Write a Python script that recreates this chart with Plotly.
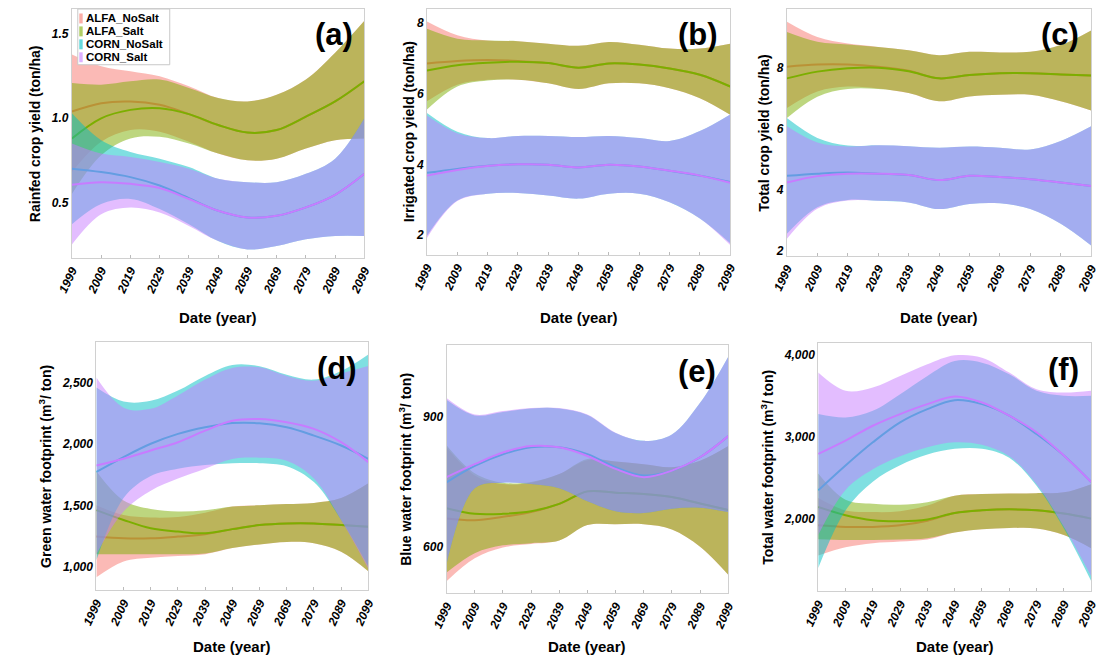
import plotly.graph_objects as go

years = [1999, 2009, 2019, 2029, 2039, 2049, 2059, 2069, 2079, 2089, 2099]
year_labels = [str(y) for y in years]
series_names = ["ALFA_NoSalt", "ALFA_Salt", "CORN_NoSalt", "CORN_Salt"]
series_colors = ["#F8766D", "#7CAE00", "#00BFC4", "#C77CFF"]

# ---------- (a) Rainfed crop yield ----------
a_an_mean = [1.04, 1.09, 1.10, 1.08, 1.025, 0.96, 0.915, 0.93, 1.01, 1.10, 1.22]
a_an_lo = [0.68, 0.86, 0.93, 0.92, 0.86, 0.79, 0.75, 0.76, 0.82, 0.87, 0.88]
a_an_hi = [1.38, 1.31, 1.28, 1.25, 1.19, 1.12, 1.10, 1.14, 1.23, 1.39, 1.58]
a_as_mean = [0.88, 1.00, 1.05, 1.06, 1.025, 0.96, 0.915, 0.93, 1.01, 1.10, 1.22]
a_as_lo = [0.55, 0.78, 0.88, 0.89, 0.85, 0.79, 0.75, 0.76, 0.82, 0.87, 0.88]
a_as_hi = [1.21, 1.20, 1.22, 1.23, 1.18, 1.12, 1.10, 1.14, 1.23, 1.39, 1.58]
a_cn_mean = [0.70, 0.68, 0.65, 0.60, 0.525, 0.45, 0.41, 0.42, 0.47, 0.545, 0.67]
a_cn_lo = [0.37, 0.49, 0.52, 0.46, 0.37, 0.27, 0.22, 0.24, 0.28, 0.30, 0.30]
a_cn_hi = [1.03, 0.87, 0.80, 0.76, 0.71, 0.64, 0.62, 0.62, 0.67, 0.76, 1.00]
a_cs_mean = [0.605, 0.62, 0.61, 0.585, 0.52, 0.45, 0.41, 0.42, 0.47, 0.545, 0.67]
a_cs_lo = [0.25, 0.43, 0.47, 0.44, 0.36, 0.27, 0.22, 0.24, 0.28, 0.30, 0.30]
a_cs_hi = [0.85, 0.79, 0.77, 0.74, 0.70, 0.64, 0.62, 0.62, 0.67, 0.76, 1.00]

# ---------- (b) Irrigated crop yield ----------
b_an_mean = [6.85, 6.92, 6.95, 6.92, 6.86, 6.73, 6.85, 6.82, 6.71, 6.53, 6.20]
b_an_lo = [5.78, 6.25, 6.39, 6.39, 6.29, 6.13, 6.29, 6.29, 6.15, 5.87, 5.40]
b_an_hi = [8.04, 7.65, 7.50, 7.48, 7.41, 7.35, 7.46, 7.38, 7.27, 7.27, 7.41]
b_as_mean = [6.65, 6.80, 6.87, 6.90, 6.86, 6.73, 6.85, 6.82, 6.71, 6.53, 6.20]
b_as_lo = [5.55, 6.20, 6.37, 6.39, 6.29, 6.13, 6.29, 6.29, 6.15, 5.87, 5.40]
b_as_hi = [7.83, 7.55, 7.50, 7.48, 7.41, 7.35, 7.46, 7.38, 7.27, 7.27, 7.41]
b_cn_mean = [3.76, 3.87, 3.96, 4.00, 3.99, 3.91, 3.99, 3.94, 3.82, 3.68, 3.50]
b_cn_lo = [1.98, 2.98, 3.17, 3.19, 3.12, 3.03, 3.17, 3.17, 2.93, 2.47, 1.77]
b_cn_hi = [5.45, 4.92, 4.74, 4.80, 4.80, 4.77, 4.80, 4.74, 4.66, 4.94, 5.41]
b_cs_mean = [3.68, 3.84, 3.95, 4.00, 3.99, 3.91, 3.99, 3.94, 3.82, 3.68, 3.48]
b_cs_lo = [1.92, 2.96, 3.17, 3.19, 3.12, 3.03, 3.17, 3.17, 2.93, 2.47, 1.72]
b_cs_hi = [5.38, 4.88, 4.74, 4.80, 4.80, 4.77, 4.80, 4.74, 4.66, 4.94, 5.41]

# ---------- (c) Total crop yield ----------
c_an_mean = [8.03, 8.10, 8.10, 8.03, 7.90, 7.65, 7.76, 7.82, 7.82, 7.78, 7.74]
c_an_lo = [6.68, 7.22, 7.38, 7.32, 7.17, 6.90, 7.06, 7.11, 7.11, 6.90, 6.60]
c_an_hi = [9.50, 9.00, 8.79, 8.68, 8.57, 8.41, 8.52, 8.50, 8.52, 8.74, 9.22]
c_as_mean = [7.65, 7.87, 7.98, 8.00, 7.88, 7.65, 7.76, 7.82, 7.82, 7.78, 7.74]
c_as_lo = [6.35, 7.05, 7.30, 7.30, 7.17, 6.90, 7.06, 7.11, 7.11, 6.90, 6.60]
c_as_hi = [9.17, 8.85, 8.76, 8.68, 8.57, 8.41, 8.52, 8.50, 8.52, 8.74, 9.22]
c_cn_mean = [4.46, 4.53, 4.57, 4.53, 4.49, 4.32, 4.46, 4.42, 4.35, 4.24, 4.13]
c_cn_lo = [2.56, 3.43, 3.67, 3.64, 3.59, 3.37, 3.54, 3.56, 3.37, 2.89, 2.18]
c_cn_hi = [6.35, 5.70, 5.45, 5.46, 5.43, 5.38, 5.42, 5.38, 5.32, 5.60, 6.08]
c_cs_mean = [4.24, 4.45, 4.53, 4.53, 4.49, 4.32, 4.46, 4.42, 4.35, 4.24, 4.13]
c_cs_lo = [2.40, 3.38, 3.65, 3.64, 3.59, 3.37, 3.54, 3.56, 3.37, 2.89, 2.18]
c_cs_hi = [6.08, 5.55, 5.42, 5.46, 5.43, 5.38, 5.42, 5.38, 5.32, 5.60, 6.08]

# ---------- (d) Green water footprint ----------
d_an_mean = [1244, 1230, 1230, 1244, 1263, 1305, 1339, 1352, 1352, 1339, 1325]
d_an_lo = [910, 1040, 1070, 1085, 1100, 1150, 1180, 1200, 1190, 1120, 960]
d_an_hi = [1500, 1420, 1400, 1405, 1440, 1490, 1500, 1510, 1520, 1560, 1680]
d_as_mean = [1461, 1380, 1312, 1285, 1271, 1305, 1339, 1352, 1352, 1339, 1325]
d_as_lo = [1100, 1100, 1100, 1100, 1105, 1150, 1180, 1200, 1190, 1120, 960]
d_as_hi = [1780, 1540, 1470, 1450, 1460, 1490, 1500, 1510, 1520, 1560, 1680]
d_cn_mean = [1773, 1895, 2004, 2085, 2139, 2174, 2172, 2139, 2071, 1990, 1881]
d_cn_lo = [1050, 1560, 1740, 1800, 1830, 1845, 1845, 1820, 1690, 1380, 1000]
d_cn_hi = [2465, 2350, 2356, 2440, 2560, 2650, 2640, 2570, 2530, 2600, 2736]
d_cs_mean = [1827, 1881, 1949, 2017, 2112, 2193, 2207, 2180, 2126, 2017, 1854]
d_cs_lo = [1100, 1450, 1620, 1720, 1800, 1880, 1890, 1865, 1720, 1380, 980]
d_cs_hi = [2546, 2300, 2290, 2400, 2530, 2625, 2630, 2560, 2520, 2580, 2641]

# ---------- (e) Blue water footprint ----------
e_an_mean = [665, 661, 669, 680, 699, 728, 725, 722, 715, 700, 685]
e_an_lo = [520, 573, 598, 606, 614, 650, 652, 652, 640, 600, 535]
e_an_hi = [830, 765, 745, 748, 768, 800, 797, 791, 784, 799, 833]
e_as_mean = [689, 676, 676, 682, 699, 728, 725, 722, 715, 700, 685]
e_as_lo = [540, 585, 603, 608, 614, 650, 652, 652, 640, 600, 535]
e_as_hi = [835, 770, 748, 750, 768, 803, 797, 791, 784, 799, 833]
e_cn_mean = [749, 787, 814, 830, 830, 814, 784, 765, 776, 807, 856]
e_cn_lo = [560, 735, 748, 745, 735, 705, 682, 678, 688, 690, 680]
e_cn_hi = [940, 904, 912, 920, 920, 905, 863, 845, 860, 933, 1040]
e_cs_mean = [761, 791, 818, 833, 830, 810, 780, 761, 776, 807, 856]
e_cs_lo = [560, 735, 748, 745, 735, 705, 682, 678, 688, 690, 680]
e_cs_hi = [944, 906, 914, 921, 921, 906, 864, 845, 860, 933, 1040]

# ---------- (f) Total water footprint ----------
f_an_mean = [1919, 1899, 1899, 1919, 1975, 2069, 2101, 2113, 2101, 2061, 2000]
f_an_lo = [1550, 1650, 1700, 1720, 1745, 1830, 1870, 1885, 1880, 1800, 1640]
f_an_hi = [2250, 2100, 2080, 2090, 2160, 2280, 2300, 2305, 2310, 2320, 2420]
f_as_mean = [2142, 2041, 1980, 1968, 1990, 2069, 2101, 2113, 2101, 2061, 2000]
f_as_lo = [1750, 1740, 1740, 1745, 1760, 1830, 1870, 1885, 1880, 1800, 1640]
f_as_hi = [2550, 2230, 2180, 2170, 2200, 2280, 2300, 2305, 2310, 2320, 2420]
f_cn_mean = [2344, 2647, 2929, 3172, 3333, 3442, 3394, 3253, 3030, 2768, 2445]
f_cn_lo = [1400, 2100, 2450, 2650, 2780, 2850, 2850, 2740, 2400, 1880, 1240]
f_cn_hi = [3273, 3232, 3313, 3515, 3737, 3919, 3899, 3758, 3556, 3495, 3495]
f_cs_mean = [2788, 2950, 3131, 3273, 3394, 3487, 3414, 3253, 3051, 2768, 2445]
f_cs_lo = [1800, 2350, 2600, 2760, 2870, 2930, 2900, 2760, 2420, 1900, 1300]
f_cs_hi = [3778, 3556, 3596, 3737, 3879, 3988, 3960, 3778, 3576, 3535, 3556]

# ---------- panel texts / ticks ----------
panel_letters = ["(a)", "(b)", "(c)", "(d)", "(e)", "(f)"]
y_titles = [
    "Rainfed crop yield (ton/ha)",
    "Irrigated crop yield (ton/ha)",
    "Total crop yield (ton/ha)",
    "Green water footprint (m<sup>3</sup>/ ton)",
    "Blue water footprint (m<sup>3</sup>/ ton)",
    "Total water footprint (m<sup>3</sup>/ ton)",
]
x_title = "Date (year)"
y_tickvals = [
    [0.5, 1.0, 1.5],
    [2, 4, 6, 8],
    [2, 4, 6, 8],
    [1000, 1500, 2000, 2500],
    [600, 900],
    [2000, 3000, 4000],
]
y_ticktext = [
    ["0.5", "1.0", "1.5"],
    ["2", "4", "6", "8"],
    ["2", "4", "6", "8"],
    ["1,000", "1,500", "2,000", "2,500"],
    ["600", "900"],
    ["2,000", "3,000", "4,000"],
]
y_ranges = [
    [0.17, 1.65],
    [1.44, 8.39],
    [1.84, 9.92],
    [804, 2834],
    [492, 1066],
    [1115, 4133],
]

panel_data = [
    [(a_an_lo, a_an_hi, a_an_mean), (a_as_lo, a_as_hi, a_as_mean), (a_cn_lo, a_cn_hi, a_cn_mean), (a_cs_lo, a_cs_hi, a_cs_mean)],
    [(b_an_lo, b_an_hi, b_an_mean), (b_as_lo, b_as_hi, b_as_mean), (b_cn_lo, b_cn_hi, b_cn_mean), (b_cs_lo, b_cs_hi, b_cs_mean)],
    [(c_an_lo, c_an_hi, c_an_mean), (c_as_lo, c_as_hi, c_as_mean), (c_cn_lo, c_cn_hi, c_cn_mean), (c_cs_lo, c_cs_hi, c_cs_mean)],
    [(d_an_lo, d_an_hi, d_an_mean), (d_as_lo, d_as_hi, d_as_mean), (d_cn_lo, d_cn_hi, d_cn_mean), (d_cs_lo, d_cs_hi, d_cs_mean)],
    [(e_an_lo, e_an_hi, e_an_mean), (e_as_lo, e_as_hi, e_as_mean), (e_cn_lo, e_cn_hi, e_cn_mean), (e_cs_lo, e_cs_hi, e_cs_mean)],
    [(f_an_lo, f_an_hi, f_an_mean), (f_as_lo, f_as_hi, f_as_mean), (f_cn_lo, f_cn_hi, f_cn_mean), (f_cs_lo, f_cs_hi, f_cs_mean)],
]

# ---------- layout geometry (screen pixels; page body has an 8px margin) ----------
OFF = 8
W, H = 1113 - 2 * OFF, 665 - 2 * OFF
plot_boxes = [  # left, right, top, bottom (screen px)
    (57, 356, 8, 258),
    (420, 730, 8, 255),
    (788, 1099, 8, 256),
    (82, 360, 343, 592),
    (440, 728, 346, 595),
    (820, 1099, 344, 593),
]
y_title_x = [20, 402, 765, 30, 398, 768]
x_title_y = [318, 318, 318, 648, 648, 648]
legend_box = (63, 8, 157, 64)
legend_rows = [17.5, 30.5, 43.5, 56.5]

FONT = "Arial, Liberation Sans, sans-serif"


def px(X):
    return (X - OFF) / W


def py(Y):
    return 1 - (Y - OFF) / H


def rgba(hex_color, a):
    h = hex_color.lstrip("#")
    r, g, b = int(h[0:2], 16), int(h[2:4], 16), int(h[4:6], 16)
    return f"rgba({r},{g},{b},{a})"


fig = go.Figure()

for p in range(6):
    xa = "x" if p == 0 else f"x{p + 1}"
    ya = "y" if p == 0 else f"y{p + 1}"
    for s in range(4):
        lo, hi, mean = panel_data[p][s]
        col = series_colors[s]
        fig.add_trace(go.Scatter(x=years, y=lo, mode="lines", line=dict(width=0, shape="spline", smoothing=1.0),
                                 showlegend=False, hoverinfo="skip", xaxis=xa, yaxis=ya))
        fig.add_trace(go.Scatter(x=years, y=hi, mode="lines", line=dict(width=0, shape="spline", smoothing=1.0),
                                 fill="tonexty", fillcolor=rgba(col, 0.5),
                                 showlegend=False, hoverinfo="skip", xaxis=xa, yaxis=ya))
        fig.add_trace(go.Scatter(x=years, y=mean, mode="lines",
                                 line=dict(width=2, color=col, shape="spline", smoothing=1.0),
                                 showlegend=False, name=series_names[s], xaxis=xa, yaxis=ya))

layout = dict(
    width=W, height=H, autosize=False,
    margin=dict(l=0, r=0, t=0, b=0),
    paper_bgcolor="white", plot_bgcolor="white",
    font=dict(family=FONT, color="black"),
    showlegend=False,
)

annotations = []
shapes = []
for p in range(6):
    l, r, t, b = plot_boxes[p]
    xkey = "xaxis" if p == 0 else f"xaxis{p + 1}"
    ykey = "yaxis" if p == 0 else f"yaxis{p + 1}"
    xa = "x" if p == 0 else f"x{p + 1}"
    ya = "y" if p == 0 else f"y{p + 1}"
    layout[xkey] = dict(
        domain=[max(0, px(l)), min(1, px(r))], anchor=ya, range=[1999, 2099],
        tickmode="array", tickvals=years,
        ticktext=[f"<b><i>{t_}</i></b>" for t_ in year_labels],
        tickangle=-65, tickfont=dict(size=12, family=FONT, color="black"),
        ticks="inside", ticklen=3, tickcolor="#bbbbbb",
        showgrid=False, zeroline=False,
        showline=True, linecolor="#d0d0d0", linewidth=1, mirror=True,
    )
    layout[ykey] = dict(
        domain=[max(0, py(b)), min(1, py(t))], anchor=xa, range=y_ranges[p],
        tickmode="array", tickvals=y_tickvals[p],
        ticktext=[f"<b><i>{t_}</i></b>" for t_ in y_ticktext[p]],
        tickfont=dict(size=12, family=FONT, color="black"),
        ticks="", showgrid=False, zeroline=False,
        showline=True, linecolor="#d0d0d0", linewidth=1, mirror=True,
    )
    annotations.append(dict(text=f"<b>{panel_letters[p]}</b>", x=px(r - 10), y=py(t + 26),
                            xref="paper", yref="paper", xanchor="right", yanchor="middle",
                            showarrow=False, font=dict(size=31, family=FONT, color="black")))
    annotations.append(dict(text=f"<b>{y_titles[p]}</b>", x=px(y_title_x[p]), y=py((t + b) / 2),
                            xref="paper", yref="paper", xanchor="center", yanchor="middle",
                            textangle=-90, showarrow=False,
                            font=dict(size=14, family=FONT, color="black")))
    annotations.append(dict(text=f"<b>{x_title}</b>", x=px((l + r) / 2), y=py(x_title_y[p]),
                            xref="paper", yref="paper", xanchor="center", yanchor="middle",
                            showarrow=False, font=dict(size=15, family=FONT, color="black")))

# legend (drawn inside panel a)
lx0, ly0, lx1, ly1 = legend_box
shapes.append(dict(type="rect", xref="paper", yref="paper", x0=px(lx0), x1=px(lx1), y0=py(ly1), y1=py(ly0),
                   fillcolor="white", line=dict(color="#c8c8c8", width=1), layer="above"))
for s in range(4):
    yy = legend_rows[s]
    shapes.append(dict(type="rect", xref="paper", yref="paper", x0=px(64.5), x1=px(68), y0=py(yy + 5), y1=py(yy - 5),
                       fillcolor=rgba(series_colors[s], 0.6), line=dict(width=0), layer="above"))
    annotations.append(dict(text=f"<b>{series_names[s]}</b>", x=px(70), y=py(yy),
                            xref="paper", yref="paper", xanchor="left", yanchor="middle",
                            showarrow=False, borderpad=0,
                            font=dict(size=11.5, family=FONT, color="black")))

layout["annotations"] = annotations
layout["shapes"] = shapes
fig.update_layout(**layout)
fig.write_html("out.html")
